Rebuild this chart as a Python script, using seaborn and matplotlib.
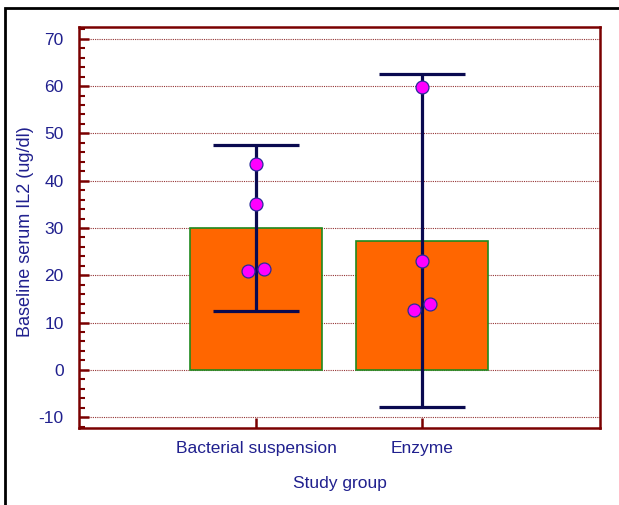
import numpy as np
import pandas as pd
import matplotlib
matplotlib.use("Agg")
import matplotlib.pyplot as plt
from matplotlib.ticker import MultipleLocator
from matplotlib.patches import Rectangle
import seaborn as sns

# ---- data ----
groups = ["Bacterial suspension", "Enzyme"]
bar_means = [30.0, 27.2]
ci_low = [12.4, -7.9]
ci_high = [47.6, 62.6]

point_groups = ["Bacterial suspension"] * 4 + ["Enzyme"] * 4
point_values = [43.6, 35.0, 20.8, 21.4, 59.8, 23.0, 12.6, 13.9]

navy = "#20208e"
maroon = "#7a0000"

sns.set_style("white")
plt.rcParams["font.family"] = ["Liberation Sans", "DejaVu Sans"]
plt.rcParams["axes.unicode_minus"] = False

fig = plt.figure(figsize=(6.19, 5.05), dpi=100)
ax = fig.add_axes([79 / 619, 77 / 505, 521 / 619, 401 / 505])

bars = pd.DataFrame({"group": groups, "mean": bar_means})
pts = pd.DataFrame({"group": point_groups, "value": point_values})

sns.barplot(data=bars, x="group", y="mean", order=groups, color="#ff6600",
            saturation=1, width=0.79, edgecolor="#1f8a1f", linewidth=1.2, ax=ax, zorder=2)

xpos = np.arange(len(groups))
means = np.array(bar_means)
yerr = [means - np.array(ci_low), np.array(ci_high) - means]
ax.errorbar(xpos, means, yerr=yerr, fmt="none", ecolor="#0a0a50",
            elinewidth=2.3, capsize=31, capthick=2.3, zorder=3)

n_before = len(ax.collections)
sns.swarmplot(data=pts, x="group", y="value", order=groups, color="#ff00ff",
              size=9.3, edgecolor="#2a2a9a", linewidth=0.9, ax=ax, zorder=4)

ax.set_xlim(-1.066, 2.072)
ax.set_ylim(-12.3, 72.5)

# let seaborn place the swarm once, then centre each cluster of touching points
fig.canvas.draw()
for coll in ax.collections[n_before:]:
    if "draw" in coll.__dict__:
        del coll.draw
    off = coll.get_offsets().copy()
    if len(off) == 0:
        continue
    centre = np.round(off[:, 0].mean())
    order = np.argsort(off[:, 1])
    cluster = [order[0]]
    for i in list(order[1:]) + [None]:
        if i is not None and off[i, 1] - off[cluster[-1], 1] < 2.5:
            cluster.append(i)
            continue
        if len(cluster) > 1:
            ys = off[cluster, 1]
            off[cluster, 0] = centre + np.linspace(-0.048, 0.048, len(cluster))[np.argsort(np.argsort(ys))]
        else:
            off[cluster, 0] = centre
        if i is not None:
            cluster = [i]
    coll.set_offsets(off)

ax.yaxis.set_major_locator(MultipleLocator(10))
ax.yaxis.set_minor_locator(MultipleLocator(2))
ax.grid(axis="y", which="major", color=maroon, linestyle=(0, (1, 1)), linewidth=0.8, alpha=0.8, zorder=0)
ax.set_axisbelow(True)

for s in ax.spines.values():
    s.set_visible(True)
    s.set_color(maroon)
    s.set_linewidth(1.8)

ax.tick_params(axis="both", which="major", direction="in", length=7, width=1.8,
               color=maroon, labelcolor=navy, labelsize=12.5)
ax.tick_params(axis="y", which="minor", direction="in", length=4, width=1.5,
               color=maroon, left=True)
ax.tick_params(axis="x", which="major", pad=9, bottom=True)
ax.tick_params(axis="y", which="major", left=True, pad=11)

ax.set_xlabel("Study group", color=navy, fontsize=12.5, labelpad=15)
ax.set_ylabel("Baseline serum IL2 (ug/dl)", color=navy, fontsize=13, va="center")
ax.yaxis.set_label_coords(-0.102, 0.49)

# figure frame
fig.patches.append(Rectangle((5 / 619, -0.1), 1.2, 0.1 + (505 - 8) / 505,
                             transform=fig.transFigure, fill=False,
                             edgecolor="black", linewidth=2))

fig.savefig("out.png", dpi=100)
